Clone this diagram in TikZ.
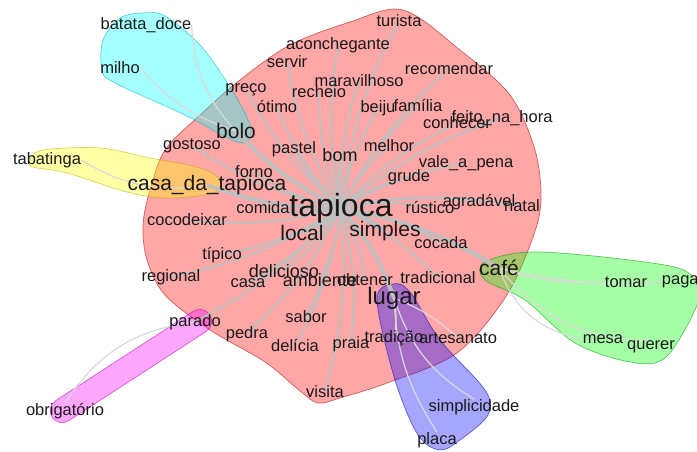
\documentclass[tikz,border=0pt]{standalone}
\usepackage{fontspec}
\setmainfont{Liberation Sans}
\usetikzlibrary{positioning, backgrounds}
\definecolor{grpred}{RGB}{255,0,0}
\definecolor{grpcyan}{RGB}{0,255,255}
\definecolor{grpyellow}{RGB}{255,255,0}
\definecolor{grpgreen}{RGB}{0,255,0}
\definecolor{grpblue}{RGB}{0,0,255}
\definecolor{grpmagenta}{RGB}{255,0,255}

\begin{document}
\begin{tikzpicture}[x=1pt, y=-1pt,
  word/.style={inner sep=0pt, text=black!90, font=\fontsize{16.5}{18}\selectfont},
  hub/.style={inner sep=0pt, text=black!90, font=\fontsize{21}{24}\selectfont},
  blob/.style={fill opacity=0.35, draw opacity=0.55, line width=0.7pt},
  spoke/.style={draw=gray!50, line width=2pt},
  tie/.style={draw=gray!30, line width=1.2pt}]
\useasboundingbox (0,0) rectangle (697,451);

% groups
\begin{scope}[on background layer]
  \filldraw[blob, fill=grpred, draw=grpred!70!black] plot[smooth cycle, tension=0.55] coordinates {
    (403,10) (460,50) (510,95) (535,150) (541,200) (532,240) (505,298) (457,353)
    (390,382) (340,398) (318,403) (300,391) (265,362) (210,330) (165,295)
    (147,260) (143,225) (150,190) (165,150) (200,115) (240,80) (290,45) (350,22)};
  \filldraw[blob, fill=grpcyan, draw=grpcyan!70!black] plot[smooth cycle, tension=0.55] coordinates {
    (143,13) (165,16) (200,45) (232,90) (250,125) (248,141) (232,140)
    (185,115) (115,83) (102,70) (103,40) (120,18)};
  \filldraw[blob, fill=grpyellow, draw=grpyellow!70!black] plot[smooth cycle, tension=0.55] coordinates {
    (30,160) (43,150) (100,148) (150,158) (200,168) (220,180) (213,193)
    (167,198) (127,192) (67,173) (33,167)};
  \filldraw[blob, fill=grpgreen, draw=grpgreen!60!black] plot[smooth cycle, tension=0.55] coordinates {
    (485,262) (540,252) (670,266) (697,285) (695,310) (665,358) (630,362)
    (575,343) (525,300) (485,280)};
  \filldraw[blob, fill=grpblue, draw=grpblue!70!black] plot[smooth cycle, tension=0.55] coordinates {
    (393,284) (410,292) (440,340) (485,390) (488,415) (460,440) (440,450)
    (418,435) (395,380) (377,300)};
  \begin{scope}[shift={(131,366)}, rotate=33]
    \filldraw[blob, fill=grpmagenta, draw=grpmagenta!70!black, rounded corners=12]
      (-94,-12) rectangle (94,12);
  \end{scope}
\end{scope}

% words
\node[word] (batata) at (146,25) {batata\_doce};
\node[word] (milho) at (120,68) {milho};
\node[word] (turista) at (399,21) {turista};
\node[word] (aconch) at (338,45) {aconchegante};
\node[word] (servir) at (287,62) {servir};
\node[word] (recom) at (449,69) {recomendar};
\node[word] (marav) at (359,81) {maravilhoso};
\node[word] (preco) at (246,90) {preço};
\node[word] (recheio) at (319,92) {recheio};
\node[word] (otimo) at (277,107) {ótimo};
\node[word] (beiju) at (378,108) {beiju};
\node[word] (familia) at (418,106) {família};
\node[word] (conhecer) at (457,123) {conhecer};
\node[word] (feito) at (502,118) {feito\_na\_hora};
\node[hub] (bolo) at (236,131) {bolo};
\node[word] (gostoso) at (192,146) {gostoso};
\node[word] (pastel) at (294,149) {pastel};
\node[word, font=\fontsize{18}{20}\selectfont] (bom) at (340,155) {bom};
\node[word] (melhor) at (389,146) {melhor};
\node[word] (vale) at (466,163) {vale\_a\_pena};
\node[word] (tabatinga) at (47,160) {tabatinga};
\node[word] (forno) at (254,172) {forno};
\node[word] (grude) at (409,177) {grude};
\node[hub] (casadt) at (207,185) {casa\_da\_tapioca};
\node[word] (comida) at (263,208) {comida};
\node[hub, font=\fontsize{32}{34}\selectfont] (tap) at (341,208) {tapioca};
\node[word] (rustico) at (430,207) {rústico};
\node[word] (agrad) at (479,202) {agradável};
\node[word] (natal) at (522,206) {natal};
\node[word] (cocod) at (187,220) {cocodeixar};
\node[hub] (local) at (302,233) {local};
\node[hub] (simples) at (385,231) {simples};
\node[word] (cocada) at (441,243) {cocada};
\node[word] (tipico) at (222,255) {típico};
\node[word] (regional) at (171,277) {regional};
\node[word, font=\fontsize{18}{20}\selectfont] (delicioso) at (284,271) {delicioso};
\node[word] (casa) at (248,283) {casa};
\node[word, font=\fontsize{18}{20}\selectfont] (ambiente) at (320,280) {ambiente};
\node[word] (obtener) at (365,280) {obtener};
\node[word] (tradicional) at (438,278) {tradicional};
\node[hub] (cafe) at (499,268) {café};
\node[word] (tomar) at (626,282) {tomar};
\node[word] (pagar) at (683,282) {pagar};
\node[hub, font=\fontsize{24}{26}\selectfont] (lugar) at (394,298) {lugar};
\node[word] (parado) at (195,322) {parado};
\node[word] (sabor) at (306,317) {sabor};
\node[word] (pedra) at (247,334) {pedra};
\node[word] (delicia) at (295,345) {delícia};
\node[word] (praia) at (351,344) {praia};
\node[word] (tradicao) at (394,338) {tradição};
\node[word] (artes) at (458,338) {artesanato};
\node[word] (mesa) at (603,339) {mesa};
\node[word] (querer) at (651,347) {querer};
\node[word] (visita) at (325,392) {visita};
\node[word] (obrig) at (65,411) {obrigatório};
\node[word] (simplic) at (474,407) {simplicidade};
\node[word] (placa) at (437,440) {placa};

% links
\begin{scope}[on background layer]
  \draw[spoke, line width=4pt] (tap.center) to[bend left=10] (bolo.center);
  \draw[spoke, line width=4pt] (tap.center) to[bend left=10] (casadt.center);
  \draw[spoke, line width=4pt] (tap.center) to[bend left=10] (local.center);
  \draw[spoke, line width=4pt] (tap.center) to[bend left=10] (simples.center);
  \draw[spoke, line width=4pt] (tap.center) to[bend left=10] (lugar.center);
  \draw[spoke, line width=4pt] (tap.center) to[bend left=10] (cafe.center);
  \draw[spoke] (tap.center) to[bend left=10] (preco.center);
  \draw[spoke] (tap.center) to[bend left=10] (otimo.center);
  \draw[spoke] (tap.center) to[bend left=10] (recheio.center);
  \draw[spoke] (tap.center) to[bend left=10] (servir.center);
  \draw[spoke] (tap.center) to[bend left=10] (aconch.center);
  \draw[spoke] (tap.center) to[bend left=10] (marav.center);
  \draw[spoke] (tap.center) to[bend left=10] (turista.center);
  \draw[spoke] (tap.center) to[bend left=10] (beiju.center);
  \draw[spoke] (tap.center) to[bend left=10] (familia.center);
  \draw[spoke] (tap.center) to[bend left=10] (recom.center);
  \draw[spoke] (tap.center) to[bend left=10] (conhecer.center);
  \draw[spoke] (tap.center) to[bend left=10] (feito.center);
  \draw[spoke] (tap.center) to[bend left=10] (melhor.center);
  \draw[spoke] (tap.center) to[bend left=10] (bom.center);
  \draw[spoke] (tap.center) to[bend left=10] (pastel.center);
  \draw[spoke] (tap.center) to[bend left=10] (vale.center);
  \draw[spoke] (tap.center) to[bend left=10] (grude.center);
  \draw[spoke] (tap.center) to[bend left=10] (rustico.center);
  \draw[spoke] (tap.center) to[bend left=10] (agrad.center);
  \draw[spoke] (tap.center) to[bend left=10] (natal.center);
  \draw[spoke] (tap.center) to[bend left=10] (forno.center);
  \draw[spoke] (tap.center) to[bend left=10] (gostoso.center);
  \draw[spoke] (tap.center) to[bend left=10] (comida.center);
  \draw[spoke] (tap.center) to[bend left=10] (cocod.center);
  \draw[spoke] (tap.center) to[bend left=10] (cocada.center);
  \draw[spoke] (tap.center) to[bend left=10] (tipico.center);
  \draw[spoke] (tap.center) to[bend left=10] (regional.center);
  \draw[spoke] (tap.center) to[bend left=10] (delicioso.center);
  \draw[spoke] (tap.center) to[bend left=10] (casa.center);
  \draw[spoke] (tap.center) to[bend left=10] (ambiente.center);
  \draw[spoke] (tap.center) to[bend left=10] (obtener.center);
  \draw[spoke] (tap.center) to[bend left=10] (tradicional.center);
  \draw[spoke] (tap.center) to[bend left=10] (sabor.center);
  \draw[spoke] (tap.center) to[bend left=10] (pedra.center);
  \draw[spoke] (tap.center) to[bend left=10] (delicia.center);
  \draw[spoke] (tap.center) to[bend left=10] (praia.center);
  \draw[spoke] (tap.center) to[bend left=10] (visita.center);
  \draw[spoke] (tap.center) to[bend left=10] (parado.center);
  \draw[tie] (bolo.center) to[bend left=20] (batata.east);
  \draw[tie] (bolo.center) to[bend left=15] (milho.east);
  \draw[tie] (casadt.center) to[bend left=20] (tabatinga.east);
  \draw[tie] (parado.center) to[bend right=25] (obrig.north);
  \draw[tie] (cafe.center) to[bend right=10] (tomar.west);
  \draw[tie] (cafe.center) to[bend right=8] (pagar.west);
  \draw[tie] (cafe.center) to[bend right=30] (mesa.west);
  \draw[tie] (cafe.center) to[bend right=25] (querer.north);
  \draw[tie] (lugar.center) to[bend right=15] (placa.north);
  \draw[tie] (lugar.center) to[bend right=20] (simplic.north);
  \draw[tie] (lugar.center) to[bend left=10] (tradicao.center);
  \draw[tie] (lugar.center) to[bend left=10] (artes.center);
\end{scope}
\end{tikzpicture}
\end{document}
